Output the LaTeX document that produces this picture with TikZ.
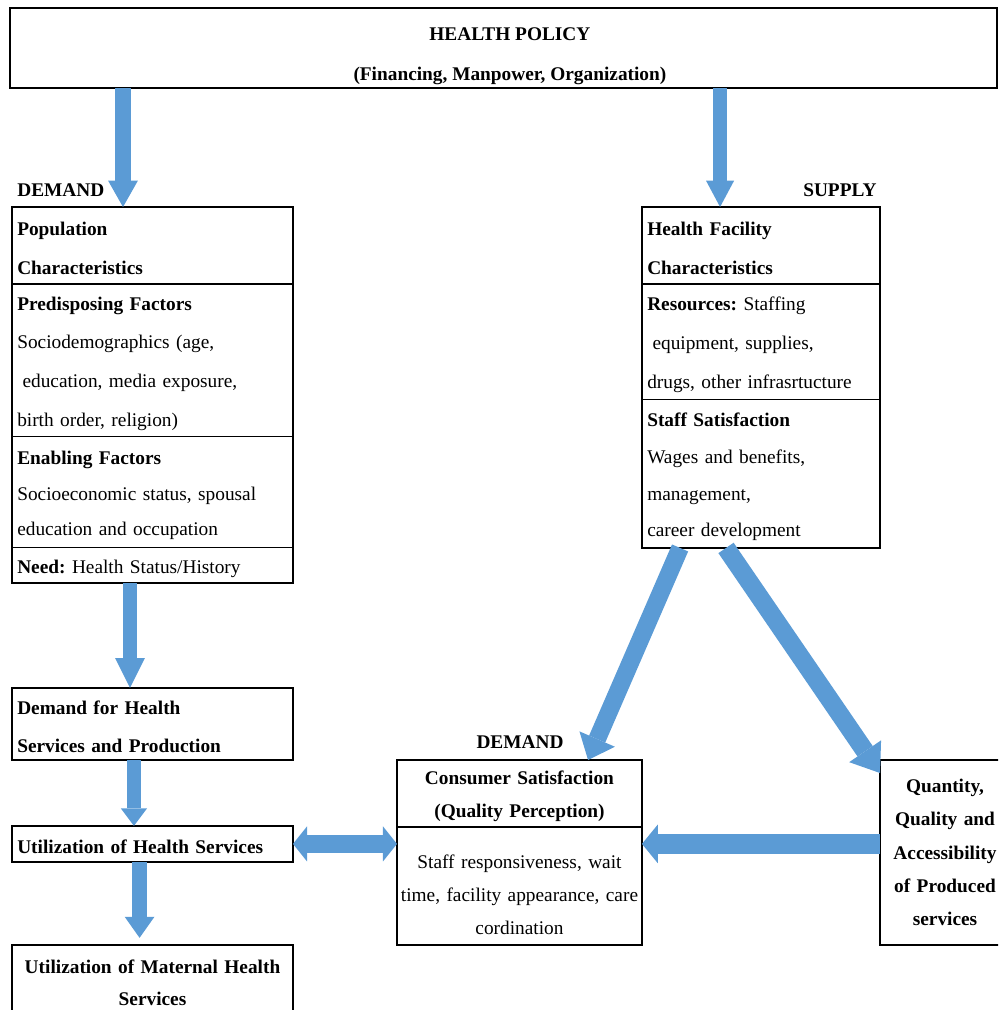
\documentclass[tikz,border=0pt]{standalone}
\usepackage{fontspec}
\setmainfont{Liberation Serif}
\usetikzlibrary{positioning,arrows.meta,calc}
\definecolor{arrowblue}{RGB}{91,155,213}
\frenchspacing
\tikzset{
    box/.style = {draw, line width=1.1pt, outer sep=0pt, inner xsep=3pt, inner ysep=0pt, font=\fontsize{11}{22}\selectfont},
    thinbox/.style = {box, line width=0.6pt, execute at begin node={\rule{0pt}{11pt}}},
    leftbox/.style = {thinbox, text width=5.41cm, minimum width=5.62cm, align=left},
    rightbox/.style = {thinbox, text width=4.55cm, minimum width=4.76cm, align=left},
    midbox/.style = {thinbox, inner xsep=0.5pt, text width=4.86cm, minimum width=4.9cm, align=center, font=\fontsize{11}{18.7}\selectfont},
    frame/.style = {draw, line width=1.1pt},
    side-label/.style = {font=\fontsize{11}{13}\selectfont\bfseries, inner sep=0pt},
    blockarrow/.style = {draw=arrowblue, line width=#1},
    blockarrow/.default = 9pt,
}

\begin{document}
\begin{tikzpicture}[x=0.02cm, y=-0.02cm]
\useasboundingbox (0,0) rectangle (998,1010);
\clip (0,0) rectangle (998,1010);

% policy
\node[box, minimum width=19.74cm, minimum height=1.6cm, anchor=north west, align=center,
      font=\fontsize{11}{23}\selectfont\bfseries] (policy) at (10,8)
      {\rule{0pt}{17pt}\hspace*{7.4pt}HEALTH POLICY\\\hspace*{7.4pt}(Financing, Manpower, Organization)};

% demand side
\node[side-label, anchor=west] (demandlbl) at (17,190) {DEMAND};
\node[leftbox, line width=1.1pt, minimum height=1.54cm, anchor=north west] (pophead) at (12,207)
      {\textbf{Population}\\\textbf{Characteristics}};
\node[leftbox, minimum height=3.06cm, below=0pt of pophead] (predisp)
      {\textbf{Predisposing Factors}\\Sociodemographics (age,\\\hspace*{3pt}education, media exposure,\\birth order, religion)};
\node[leftbox, minimum height=2.22cm, below=0pt of predisp, font=\fontsize{11}{20}\selectfont] (enabling)
      {\textbf{Enabling Factors}\\Socioeconomic status, spousal\\education and occupation};
\node[leftbox, minimum height=0.7cm, below=0pt of enabling] (need)
      {\textbf{Need:} Health Status/History};
\draw[frame] (pophead.north west) rectangle (need.south east);

\node[leftbox, line width=1.1pt, minimum height=1.44cm, below=2.1cm of need] (demand)
      {\textbf{Demand for Health}\\\textbf{Services and Production}};
\node[leftbox, line width=1.1pt, minimum height=0.72cm, below=1.32cm of demand] (util)
      {\textbf{Utilization of Health Services}};
\node[leftbox, line width=1.1pt, minimum height=1.4cm, below=1.66cm of util, align=center,
      font=\fontsize{11}{18}\selectfont\bfseries] (maternal)
      {Utilization of Maternal Health\\Services};

% supply side
\node[side-label, anchor=east] (supplylbl) at (877,190) {SUPPLY};
\node[rightbox, line width=1.1pt, minimum height=1.54cm, anchor=north west] (fachead) at (642,207)
      {\textbf{Health Facility}\\\textbf{Characteristics}};
\node[rightbox, minimum height=2.32cm, below=0pt of fachead] (resources)
      {\textbf{Resources:} Staffing\\\hspace*{3pt}equipment, supplies,\\drugs, other infrasrtucture};
\node[rightbox, minimum height=2.96cm, below=0pt of resources, font=\fontsize{11}{21}\selectfont] (staff)
      {\textbf{Staff Satisfaction}\\Wages and benefits,\\management,\\career development};
\draw[frame] (fachead.north west) rectangle (staff.south east);

% consumer satisfaction
\node[side-label] (demandlbl2) at (520,742) {DEMAND};
\node[midbox, line width=1.1pt, minimum height=1.34cm, anchor=north west,
      font=\fontsize{11}{18.7}\selectfont\bfseries] (conshead) at (397,760)
      {Consumer Satisfaction\\(Quality Perception)};
\node[midbox, minimum height=2.36cm, below=0pt of conshead] (consbody)
      {\rule{0pt}{18pt}Staff responsiveness, wait\\time, facility appearance, care\\cordination};
\draw[frame] (conshead.north west) rectangle (consbody.south east);

\node[box, minimum width=2.6cm, minimum height=3.7cm, text width=2.39cm, align=center,
      anchor=north west, font=\fontsize{11}{19}\selectfont\bfseries] (quant) at (880,760)
      {Quantity,\\Quality and\\Accessibility\\of Produced\\services};

% arrows
\coordinate (popin) at ($(pophead.north west)!0.395!(pophead.north east)$);
\coordinate (facin) at ($(fachead.north west)!0.328!(fachead.north east)$);
\coordinate (needout) at ($(need.south west)!0.42!(need.south east)$);
\coordinate (demandout) at ($(demand.south west)!0.434!(demand.south east)$);
\coordinate (utilout) at ($(util.south west)!0.454!(util.south east)$);
\coordinate (staffout1) at ($(staff.south west)!0.16!(staff.south east)$);
\coordinate (staffout2) at ($(staff.south west)!0.353!(staff.south east)$);
\coordinate (consin) at ($(conshead.north west)!0.78!(conshead.north east)$);
\coordinate (quantin) at ($(quant.north west)+(0,13)$);

\draw[blockarrow=9.6pt, -{Triangle[width=17pt, length=15pt, line width=0pt]}] (policy.south -| popin) -- (popin);
\draw[blockarrow=7.5pt, -{Triangle[width=16pt, length=15pt, line width=0pt]}] (policy.south -| facin) -- (facin);
\draw[blockarrow=8.5pt, -{Triangle[width=17pt, length=17pt, line width=0pt]}] (needout) -- (needout |- demand.north);
\draw[blockarrow=7.5pt, -{Triangle[width=15pt, length=10pt, line width=0pt]}] (demandout) -- (demandout |- util.north);
\draw[blockarrow=8.5pt, -{Triangle[width=17pt, length=12pt, line width=0pt]}, shorten >=4pt] (utilout) -- (utilout |- maternal.north);
\draw[blockarrow=10pt, {Triangle[width=20pt, length=8pt, line width=0pt]}-{Triangle[width=20pt, length=8pt, line width=0pt]}]
      (util.east) -- (util.east -| consbody.west);
\draw[blockarrow=11pt, -{Triangle[width=22pt, length=9pt, line width=0pt]}] (util.east -| quant.west) -- (util.east -| consbody.east);
\draw[blockarrow=10pt, -{Triangle[width=22pt, length=13pt, line width=0pt]}] (staffout1) -- (consin);
\draw[blockarrow=10.5pt, -{Triangle[width=22pt, length=15pt, line width=0pt]}] (staffout2) -- (quantin);
\end{tikzpicture}
\end{document}
